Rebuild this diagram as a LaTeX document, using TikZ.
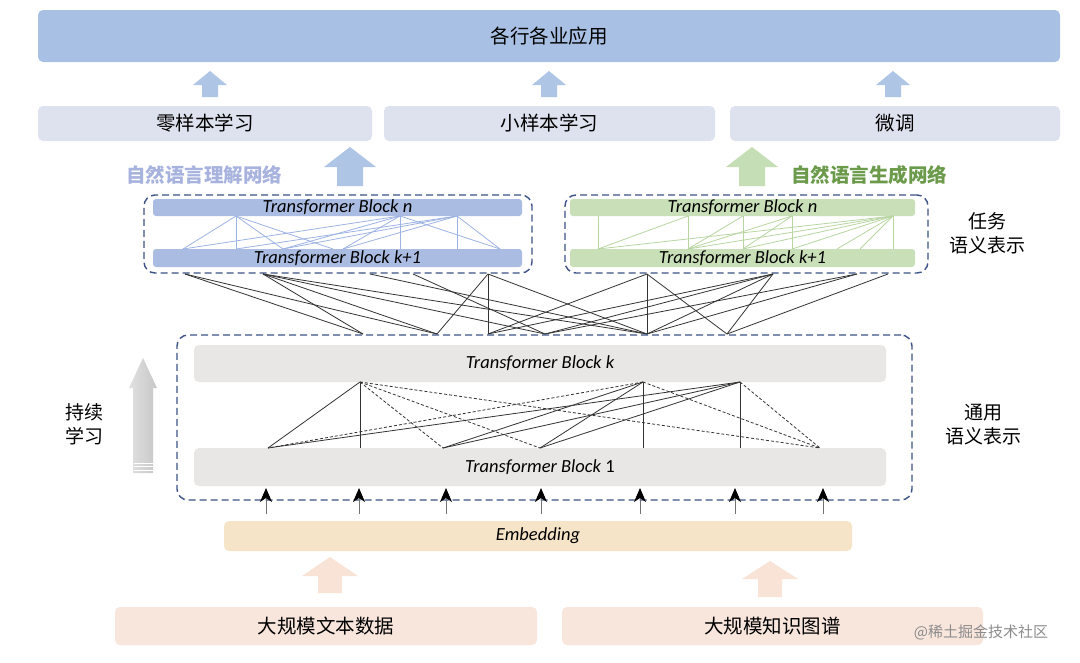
\documentclass[tikz,border=0pt]{standalone}
\usepackage{fontspec}
\setmainfont{Carlito}
\newfontfamily\cjk{Noto Sans CJK SC}
\usetikzlibrary{arrows.meta}
\definecolor{appblue}{HTML}{A8C0E3}
\definecolor{learngray}{HTML}{DEE2EE}
\definecolor{arrblue}{HTML}{AEC5E6}
\definecolor{ulabel}{HTML}{A7B3DE}
\definecolor{ublue}{HTML}{AABCE2}
\definecolor{umesh}{HTML}{9DB3E3}
\definecolor{ggreen}{HTML}{C8DFB8}
\definecolor{garrow}{HTML}{C6DEB5}
\definecolor{glabel}{HTML}{6A9A4A}
\definecolor{gmesh}{HTML}{B8D5A2}
\definecolor{dashblue}{HTML}{3D5287}
\definecolor{blockgray}{HTML}{E9E7E6}
\definecolor{embcol}{HTML}{F6E4C9}
\definecolor{peach}{HTML}{F9E3D6}
\definecolor{databox}{HTML}{F8E6DC}
\newcommand\bigup[7]{% x, ybottom, ytip, yheadbase, shaft half, head half, colour
  \fill[#7] (#1-#5,#2) -- (#1-#5,#4) -- (#1-#6,#4) -- (#1,#3) -- (#1+#6,#4) -- (#1+#5,#4) -- (#1+#5,#2) -- cycle;}
\tikzset{
  cjktext/.style={font=\cjk\fontsize{19.5}{25}\selectfont, text=black},
  tftext/.style={font=\fontsize{18.5}{22}\selectfont, text=black},
  flat/.style={rounded corners=5pt, inner sep=0pt},
  appbox/.style={flat, fill=appblue, minimum width=1022pt, minimum height=52pt, cjktext},
  learnbox/.style={flat, fill=learngray, minimum height=35pt, cjktext},
  ublock/.style={rounded corners=3pt, inner sep=0pt, fill=ublue, minimum width=369pt, tftext},
  gblock/.style={rounded corners=3pt, inner sep=0pt, fill=ggreen, minimum width=345pt, tftext},
  grayblock/.style={flat, fill=blockgray, minimum width=692pt, tftext},
  embbox/.style={flat, fill=embcol, minimum width=628pt, minimum height=30pt, tftext},
  databoxst/.style={flat, fill=databox, minimum width=422pt, minimum height=38pt, cjktext},
  dashbox/.style={draw=dashblue, line width=1.4pt, dash pattern=on 7pt off 4pt, rounded corners=11pt, inner sep=0pt},
  umeshline/.style={draw=umesh, line width=0.8pt},
  gmeshline/.style={draw=gmesh, line width=0.8pt},
  kline/.style={draw=black!80, line width=0.8pt},
  kdash/.style={draw=black!80, line width=0.8pt, dash pattern=on 3pt off 2pt},
  smallarr/.style={draw=black!55, line width=1pt, -{Stealth[length=14pt,width=12pt,inset=4pt,color=black]}},
  sidetext/.style={cjktext, align=center, font=\cjk\fontsize{19}{24}\selectfont},
}
\begin{document}
\begin{tikzpicture}[x=1pt,y=-1pt]
\useasboundingbox (0,0) rectangle (1080,662);
\fill[white] (0,0) rectangle (1080,662);

% top row
\node[appbox] (app) at (549,36) {各行各业应用};
\node[learnbox, minimum width=334pt] (zero) at (205,123.5) {零样本学习};
\node[learnbox, minimum width=331pt] (few) at (549.5,123.5) {小样本学习};
\node[learnbox, minimum width=330pt] (ft) at (895,123.5) {微调};
\bigup{210}{97}{71}{85}{8}{17}{arrblue}
\bigup{549}{97}{71}{85}{8}{17}{arrblue}
\bigup{893}{97}{71}{85}{8}{17}{arrblue}

% big arrows and network labels
\bigup{350}{186}{147}{167}{13}{26}{arrblue}
\bigup{752}{186}{147}{167}{13}{26}{garrow}
\node[font=\cjk\bfseries\fontsize{19.5}{24}\selectfont, text=ulabel] (ulab) at (204,175) {自然语言理解网络};
\node[font=\cjk\bfseries\fontsize{19.5}{24}\selectfont, text=glabel] (glab) at (869,175) {自然语言生成网络};

% task networks
\node[dashbox, minimum width=388pt, minimum height=78pt] (ubox) at (338,234) {};
\node[dashbox, minimum width=363pt, minimum height=78pt] (gbox) at (746.5,234) {};
\node[ublock, minimum height=17pt] (un) at (337.5,207.5) {\itshape Transformer Block n};
\node[ublock, minimum height=18pt] (uk) at (337.5,258) {\itshape Transformer Block k+1};
\node[gblock, minimum height=17pt] (gn) at (742.5,207.5) {\itshape Transformer Block n};
\node[gblock, minimum height=18pt] (gk) at (742.5,258) {\itshape Transformer Block k+1};

\foreach \x in {236,400,457} \coordinate (ut\x) at (\x,216);
\foreach \x in {183,236,283,333,343,400,457,500} \coordinate (ub\x) at (\x,249);
\foreach \t/\b in {236/183,236/236,236/283,236/333,400/183,400/283,400/343,400/400,400/500,457/236,457/283,457/343,457/457,457/500}
  \draw[umeshline] (ut\t) -- (ub\b);

\foreach \x in {598,688,743,792,893} \coordinate (gt\x) at (\x,216);
\foreach \x in {598,688,743,792,837,860,893} \coordinate (gb\x) at (\x,249);
\foreach \b/\t in {598/598,598/688,598/893,688/688,688/743,688/792,688/893,743/743,743/792,743/893,792/792,792/893,837/893,860/893,893/893}
  \draw[gmeshline] (gb\b) -- (gt\t);

\node[sidetext] (task) at (987,233) {任务\\语义表示};

% connections between task networks and general block
\foreach \x in {185,263,370,413,488,647,773,857,888} \coordinate (T\x) at (\x,274);
\foreach \x in {363,437,488,545,647,727} \coordinate (B\x) at (\x,334);
\foreach \t/\b in {185/363,185/437,263/363,263/437,263/545,263/647,370/647,413/545,488/437,488/488,488/647,647/488,647/647,647/727,773/488,773/545,773/647,773/727,857/545,857/647,888/727}
  \draw[kline] (T\t) -- (B\b);

% general block
\node[dashbox, minimum width=735pt, minimum height=165pt] (genbox) at (544.5,417.5) {};
\node[grayblock, minimum height=37pt] (gbk) at (540,363.5) {\itshape Transformer Block k};
\node[grayblock, minimum height=38pt] (gb1) at (540,467) {\textit{Transformer Block} 1};
\foreach \x in {360,643,740} \coordinate (P\x) at (\x,382);
\foreach \x in {268,360,443,540,643,740,820} \coordinate (Q\x) at (\x,448);
\foreach \t/\b in {360/268,360/360,643/443,643/540,643/643,740/268,740/443,740/540,740/740}
  \draw[kline] (P\t) -- (Q\b);
\foreach \t/\b in {360/443,360/540,360/820,643/268,643/820,740/820}
  \draw[kdash] (P\t) -- (Q\b);

\node[sidetext] (general) at (983,425) {通用\\语义表示};

% continual learning arrow
\shade[left color=black!12, right color=black!22] (133,473) -- (133,388) -- (129,388) -- (143,358) -- (157,388) -- (153,388) -- (153,473) -- cycle;
\foreach \y in {463,466.5,470} \draw[white, line width=0.7pt] (133.5,\y) -- (152.5,\y);
\node[sidetext] (cl) at (84,424) {持续\\学习};

% embedding and input arrows
\node[embbox] (emb) at (538,536) {\itshape Embedding};
\foreach \x [count=\i] in {266,359,446,541,640,735,823} {
  \coordinate (e\i) at (\x,514);
  \coordinate (f\i) at (\x,488);
  \draw[smallarr] (e\i) -- (f\i);
}

% data
\bigup{330}{593}{557}{576}{12}{28}{peach}
\bigup{770}{597}{561}{579}{12}{28}{peach}
\node[databoxst] (d1) at (326,626) {大规模文本数据};
\node[databoxst, minimum width=421pt] (d2) at (772.5,626) {大规模知识图谱};
\node[font=\cjk\fontsize{15}{18}\selectfont, text=black!45] (wm) at (981,632) {@稀土掘金技术社区};
\end{tikzpicture}
\end{document}
